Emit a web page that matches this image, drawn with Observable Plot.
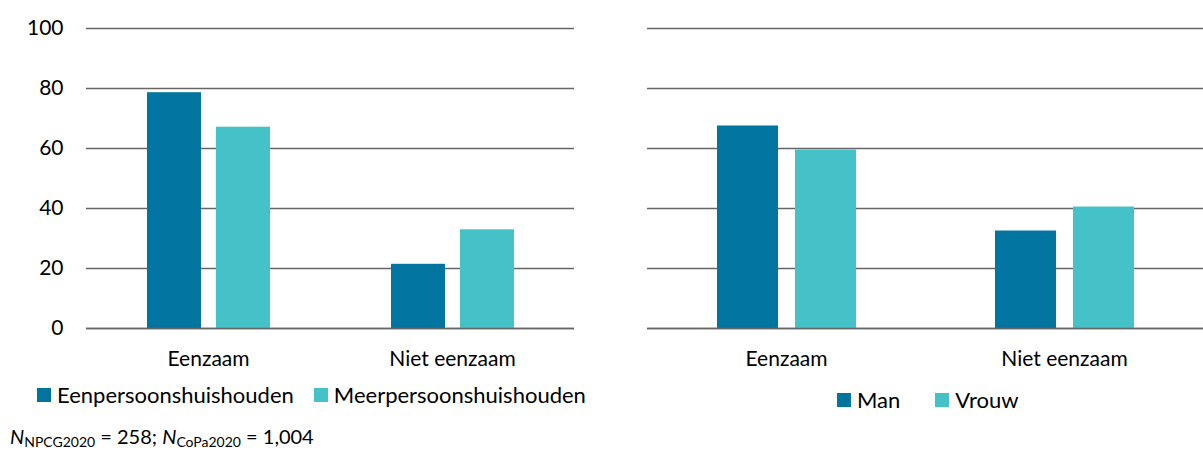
<!DOCTYPE html>
<html>
<head>
<meta charset="utf-8">
<script src="https://cdn.jsdelivr.net/npm/d3@7"></script>
<script src="https://cdn.jsdelivr.net/npm/@observablehq/plot@0.6"></script>
<style>
  html, body { margin: 0; padding: 0; background: #fff; }
  body { width: 1203px; height: 451px; position: relative; overflow: hidden; font-family: Lato, sans-serif; color: #000; }
  .panel { position: absolute; top: 0; }
  .legend { position: absolute; display: flex; align-items: center; font-size: 22px; white-space: nowrap; }
  .legend .item { display: flex; align-items: center; }
  .legend .sw { width: 14px; height: 14px; margin-right: 6px; display: inline-block; }
  .caption { position: absolute; left: 10px; top: 424px; font-size: 20px; white-space: nowrap; }
  .caption sub { font-size: 14px; vertical-align: -3px; }
</style>
</head>
<body>
<div id="left" class="panel" style="left:0px"></div>
<div id="right" class="panel" style="left:600px"></div>
<div id="legLeft" class="legend" style="left:37px; top:381px"></div>
<div id="legRight" class="legend" style="left:837px; top:386px"></div>
<div class="caption"><i>N</i><sub>NPCG2020</sub> = 258; <i>N</i><sub>CoPa2020</sub> = 1,004</div>
<script>
const categories = ["Eenzaam", "Niet eenzaam"];
const householdSeries = ["Eenpersoonshuishouden", "Meerpersoonshuishouden"];
const eenpersoons = [78.6, 21.4];
const meerpersoons = [67.1, 32.9];
const genderSeries = ["Man", "Vrouw"];
const man = [67.5, 32.5];
const vrouw = [59.5, 40.5];
const yTicks = [0, 20, 40, 60, 80, 100];
const colors = ["#0274a0", "#44c2c7"];

function rows(series, a, b) {
  const out = [];
  categories.forEach((c, i) => {
    out.push({cat: c, group: series[0], value: a[i]});
    out.push({cat: c, group: series[1], value: b[i]});
  });
  return out;
}

function chart(data, series, opts) {
  return Plot.plot({
    width: opts.width,
    height: 380,
    marginLeft: opts.marginLeft,
    marginRight: opts.marginRight,
    marginTop: 28,
    marginBottom: 52,
    style: {fontFamily: "Lato, sans-serif", fontSize: "21px", color: "#000", background: "transparent"},
    fx: {domain: categories, padding: 0, axis: "bottom", tickSize: 0, tickPadding: 23, label: null},
    x: {domain: series, axis: null, paddingInner: 0.22, paddingOuter: 0.87},
    y: {domain: [0, 100], ticks: yTicks, axis: opts.yAxis ? "left" : null, tickSize: 0, tickPadding: 23, label: null, tickFormat: d => d},
    color: {domain: series, range: colors},
    marks: [
      Plot.ruleY(yTicks, {stroke: "#666666", strokeWidth: 1.3}),
      Plot.barY(data, {fx: "cat", x: "group", y: "value", fill: "group"}),
      Plot.ruleY([0], {stroke: "#666666", strokeWidth: 1.3})
    ]
  });
}

document.getElementById("left").appendChild(
  chart(rows(householdSeries, eenpersoons, meerpersoons), householdSeries, {width: 600, marginLeft: 86, marginRight: 26, yAxis: true})
);
document.getElementById("right").appendChild(
  chart(rows(genderSeries, man, vrouw), genderSeries, {width: 603, marginLeft: 47, marginRight: 0, yAxis: false})
);

function legend(el, series, gap) {
  series.forEach((s, i) => {
    const it = document.createElement("div");
    it.className = "item";
    if (i > 0) it.style.marginLeft = gap + "px";
    const sw = document.createElement("span");
    sw.className = "sw";
    sw.style.background = colors[i];
    it.appendChild(sw);
    it.appendChild(document.createTextNode(s));
    el.appendChild(it);
  });
}
legend(document.getElementById("legLeft"), householdSeries, 20);
legend(document.getElementById("legRight"), genderSeries, 35);
</script>
</body>
</html>
